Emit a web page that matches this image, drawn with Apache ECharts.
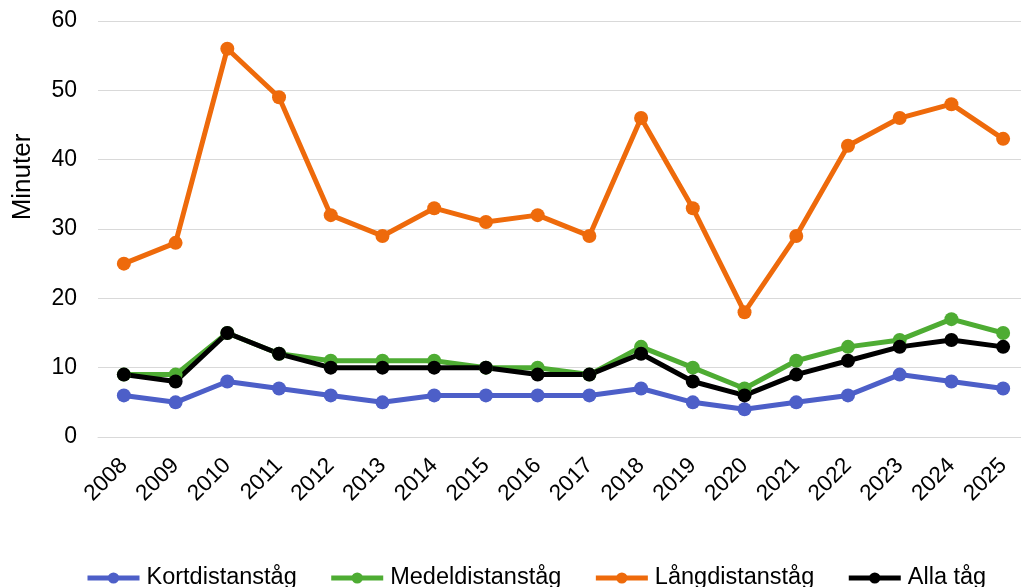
<!DOCTYPE html>
<html>
<head>
<meta charset="utf-8">
<script src="https://cdn.jsdelivr.net/npm/echarts@6/dist/echarts.min.js"></script>
<style>
  html,body{margin:0;padding:0;background:#fff;}
  #chart{width:1021px;height:587px;}
</style>
</head>
<body>
<div id="chart"></div>
<script>
// === Data ===
const years = ['2008','2009','2010','2011','2012','2013','2014','2015','2016','2017','2018','2019','2020','2021','2022','2023','2024','2025'];
const kort   = [6, 5, 8, 7, 6, 5, 6, 6, 6, 6, 7, 5, 4, 5, 6, 9, 8, 7];
const medel  = [9, 9, 15, 12, 11, 11, 11, 10, 10, 9, 13, 10, 7, 11, 13, 14, 17, 15];
const lang   = [25, 28, 56, 49, 32, 29, 33, 31, 32, 29, 46, 33, 18, 29, 42, 46, 48, 43];
const alla   = [9, 8, 15, 12, 10, 10, 10, 10, 9, 9, 12, 8, 6, 9, 11, 13, 14, 13];

// === Palette ===
const cBlue = '#4d5fc8', cGreen = '#4eac33', cOrange = '#ee6a0b', cBlack = '#000000';
const font = 'Liberation Sans, Arial, sans-serif';

const line = (name, data, color) => ({
  name, type:'line', data,
  symbol:'circle', symbolSize:14,
  lineStyle:{ width:5, color },
  itemStyle:{ color },
  emphasis:{ disabled:true }
});

const chart = echarts.init(document.getElementById('chart'));
chart.setOption({
  animation:false,
  textStyle:{ fontFamily:font },
  // la grilla sigue más allá del borde derecho (como en el original)
  grid:{ left:98, width:931, top:21, bottom:150, outerBoundsMode:'none' },
  legend:{
    top:561, left:80, itemGap:32, itemWidth:52, itemHeight:14,
    lineStyle:{ width:5 },
    textStyle:{ fontSize:23.5, color:'#000', fontFamily:font, padding:[0,0,0,2] },
    data:['Kortdistanståg','Medeldistanståg','Långdistanståg','Alla tåg']
  },
  xAxis:{
    type:'category', data:years, boundaryGap:true,
    axisLine:{ show:true, lineStyle:{ color:'#d9d9d9', width:1 } },
    axisTick:{ show:false },
    axisLabel:{ rotate:45, fontSize:22.5, color:'#000', fontFamily:font, margin:25, interval:0 }
  },
  yAxis:{
    type:'value', min:0, max:60, interval:10,
    name:'Minuter', nameLocation:'middle', nameGap:62, nameRotate:90,
    nameTextStyle:{ fontSize:26, color:'#000', fontFamily:font, padding:[0,0,0,104] },
    axisLine:{ show:false }, axisTick:{ show:false },
    axisLabel:{ fontSize:23, color:'#000', fontFamily:font, margin:21 },
    splitLine:{ lineStyle:{ color:'#d9d9d9', width:1 } }
  },
  series:[
    line('Kortdistanståg', kort, cBlue),
    line('Medeldistanståg', medel, cGreen),
    line('Långdistanståg', lang, cOrange),
    line('Alla tåg', alla, cBlack)
  ]
});
</script>
</body>
</html>
